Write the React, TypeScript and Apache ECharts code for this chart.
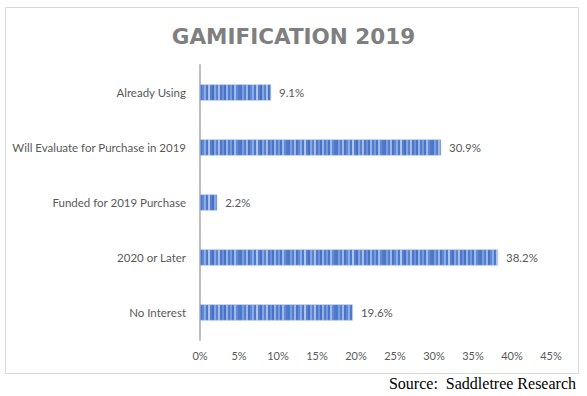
import React, { useEffect, useRef } from "react";
import * as echarts from "echarts";

const categories = [
  "Already Using",
  "Will Evaluate for Purchase in 2019",
  "Funded for 2019 Purchase",
  "2020 or Later",
  "No Interest",
];
const values = [9.1, 30.9, 2.2, 38.2, 19.6];
const titleText = "GAMIFICATION 2019";
const sourceText = "Source:  Saddletree Research";

function makeStripePattern(): string {
  const c = document.createElement("canvas");
  const shades = [
    "#4a76cb", "#7d9ddc", "#5680ce", "#9db6e6", "#4873ca", "#628ad3",
    "#8eaae1", "#4d78cc", "#b0c4eb", "#5780cf", "#4470c8", "#87a5df",
    "#5a82d0", "#a5bce8", "#4a75ca", "#6e92d7", "#4672c9", "#98b2e5",
    "#527dce", "#7a9bdb", "#4874ca", "#a2bae7", "#6289d3", "#4e79cc",
  ];
  c.width = shades.length * 2;
  c.height = 4;
  const ctx = c.getContext("2d");
  if (ctx) {
    shades.forEach((s, i) => {
      ctx.fillStyle = s;
      ctx.fillRect(i * 2, 0, 2, 4);
    });
  }
  return c.toDataURL();
}

export default function App() {
  const ref = useRef<HTMLDivElement>(null);
  useEffect(() => {
    if (!ref.current) return;
    const chart = echarts.init(ref.current, undefined, { renderer: "svg" });
    const pattern = makeStripePattern();
    chart.setOption({
      animation: false,
      backgroundColor: "#ffffff",
      title: {
        text: titleText,
        left: "center",
        top: 20,
        textStyle: {
          fontFamily: "DejaVu Sans",
          fontWeight: "bold",
          fontSize: 21.5,
          color: "#7f7f7f",
        },
      },
      graphic: [
        {
          type: "rect",
          shape: { x: 5.5, y: 7.5, width: 573, height: 366 },
          style: { fill: "none", stroke: "#d9d9d9", lineWidth: 1 },
          silent: true,
        },
        {
          type: "text",
          right: 11,
          top: 375,
          style: {
            text: sourceText,
            font: '16px "Liberation Serif"',
            fill: "#000000",
          },
        },
      ],
      grid: { left: 200, right: 36, top: 65, bottom: 56, containLabel: false },
      xAxis: {
        type: "value",
        min: 0,
        max: 45,
        interval: 5,
        axisLine: { show: false },
        axisTick: { show: false },
        splitLine: { show: false },
        axisLabel: {
          formatter: "{value}%",
          color: "#595959",
          fontFamily: "Lato",
          fontSize: 11,
          margin: 10,
        },
      },
      yAxis: {
        type: "category",
        data: categories,
        inverse: true,
        axisLine: { show: true, lineStyle: { color: "#bfbfbf", width: 2 } },
        axisTick: { show: false },
        axisLabel: {
          color: "#595959",
          fontFamily: "Lato",
          fontSize: 11.5,
          margin: 14,
        },
      },
      series: [
        {
          type: "bar",
          data: values,
          barWidth: 16,
          itemStyle: {
            color: { image: pattern, repeat: "repeat" },
            borderColor: "#9db6e6",
            borderWidth: 0.5,
          },
          label: {
            show: true,
            position: "right",
            distance: 8,
            formatter: (p: any) => p.value.toFixed(1) + "%",
            color: "#595959",
            fontFamily: "Lato",
            fontSize: 11.5,
          },
        },
      ],
    });
    return () => chart.dispose();
  }, []);
  return (
    <div
      ref={ref}
      style={{ position: "absolute", left: 0, top: 0, width: 587, height: 396 }}
    />
  );
}
